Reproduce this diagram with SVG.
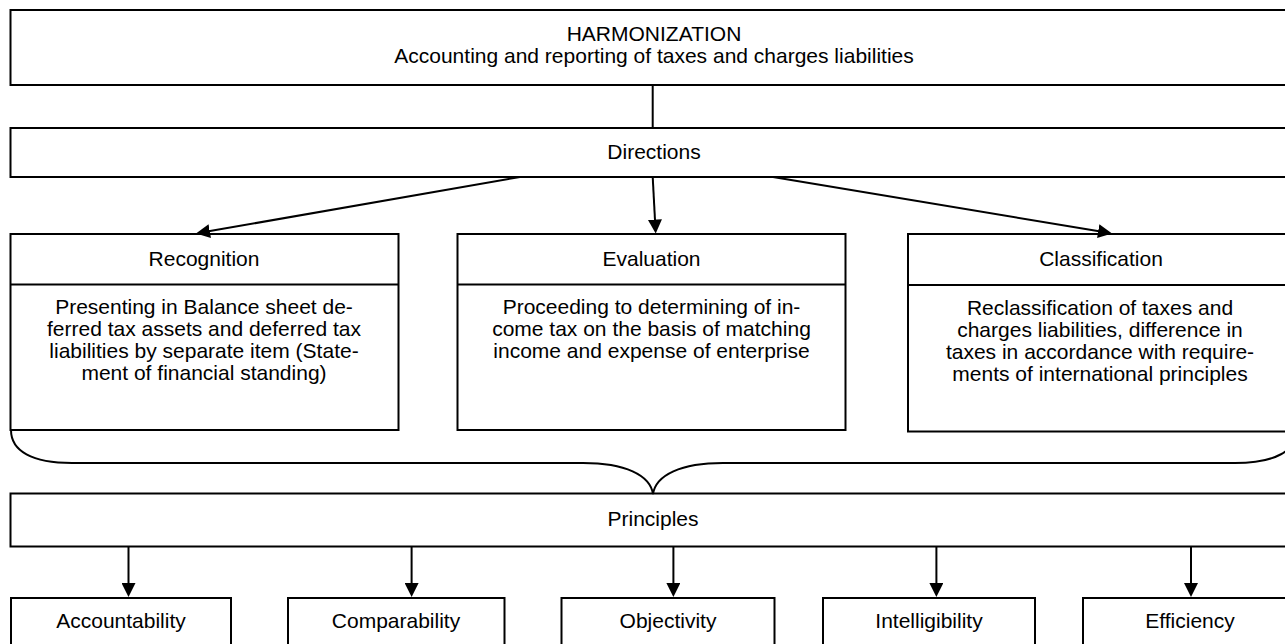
<svg xmlns="http://www.w3.org/2000/svg" width="1285" height="644" viewBox="0 0 1285 644">
<style>
.box{fill:#fff;stroke:#000;stroke-width:2}
.ln{fill:none;stroke:#000;stroke-width:2}
text{font-family:"Liberation Sans",Arial,sans-serif;font-size:21px;fill:#000;text-anchor:middle}
</style>
<defs>
<marker id="ah" markerUnits="userSpaceOnUse" markerWidth="14" markerHeight="14" refX="10" refY="7" orient="auto">
<path d="M0,0 L14,7 L0,14 z" fill="#000"/>
</marker>
</defs>
<rect width="1285" height="644" fill="#fff"/>
<g id="harmonization">
<rect class="box" x="10.5" y="10" width="1288" height="75"/>
<text x="654" y="40.5">HARMONIZATION</text>
<text x="654" y="63">Accounting and reporting of taxes and charges liabilities</text>
</g>
<g id="directions">
<rect class="box" x="10.5" y="128" width="1288" height="49"/>
<text x="654" y="159">Directions</text>
</g>
<g id="recognition">
<rect class="box" x="10.5" y="234" width="388" height="196"/>
<line class="ln" x1="10.5" y1="284.5" x2="398.5" y2="284.5"/>
<text x="204" y="265.5">Recognition</text>
<text x="204" y="314">Presenting in Balance sheet de-</text>
<text x="204" y="336">ferred tax assets and deferred tax</text>
<text x="204" y="358">liabilities by separate item (State-</text>
<text x="204" y="380">ment of financial standing)</text>
</g>
<g id="evaluation">
<rect class="box" x="457.5" y="234" width="388" height="196"/>
<line class="ln" x1="457.5" y1="284.5" x2="845.5" y2="284.5"/>
<text x="651.5" y="265.5">Evaluation</text>
<text x="651.5" y="314">Proceeding to determining of in-</text>
<text x="651.5" y="336">come tax on the basis of matching</text>
<text x="651.5" y="358">income and expense of enterprise</text>
</g>
<g id="classification">
<rect class="box" x="908" y="234" width="388" height="197.5"/>
<line class="ln" x1="908" y1="285" x2="1296" y2="285"/>
<text x="1101" y="266">Classification</text>
<text x="1100" y="314.5">Reclassification of taxes and</text>
<text x="1100" y="336.5">charges liabilities, difference in</text>
<text x="1100" y="358.5">taxes in accordance with require-</text>
<text x="1100" y="380.5">ments of international principles</text>
</g>
<g id="principles">
<rect class="box" x="10.5" y="493.5" width="1288" height="53"/>
<text x="653" y="526">Principles</text>
</g>
<g id="accountability">
<rect class="box" x="11" y="598" width="220" height="60"/>
<text x="121" y="628">Accountability</text>
</g>
<g id="comparability">
<rect class="box" x="288" y="598" width="216.5" height="60"/>
<text x="396" y="628">Comparability</text>
</g>
<g id="objectivity">
<rect class="box" x="561.5" y="598" width="213" height="60"/>
<text x="668" y="628">Objectivity</text>
</g>
<g id="intelligibility">
<rect class="box" x="823" y="598" width="212" height="60"/>
<text x="929" y="628">Intelligibility</text>
</g>
<g id="efficiency">
<rect class="box" x="1083" y="598" width="214" height="60"/>
<text x="1190" y="628">Efficiency</text>
</g>
<g id="connectors">
<line class="ln" x1="652.7" y1="85" x2="652.7" y2="128"/>
<line class="ln" x1="520" y1="177" x2="199.9" y2="232.8" marker-end="url(#ah)"/>
<line class="ln" x1="652.7" y1="177" x2="655.5" y2="229.5" marker-end="url(#ah)"/>
<line class="ln" x1="773" y1="177" x2="1108.1" y2="232.8" marker-end="url(#ah)"/>
<path class="ln" d="M11,430 C11,451 32,463 72,463 L583,463 C625,463 650,475 653,494 C656,475 681,463 723,463 L1235,463 C1275,463 1296,451 1296,431"/>
<line class="ln" x1="128.5" y1="547" x2="128.5" y2="593" marker-end="url(#ah)"/>
<line class="ln" x1="411.6" y1="547" x2="411.6" y2="593" marker-end="url(#ah)"/>
<line class="ln" x1="673.4" y1="547" x2="673.4" y2="593" marker-end="url(#ah)"/>
<line class="ln" x1="936.4" y1="547" x2="936.4" y2="593" marker-end="url(#ah)"/>
<line class="ln" x1="1191" y1="547" x2="1191" y2="593" marker-end="url(#ah)"/>
</g>
</svg>
